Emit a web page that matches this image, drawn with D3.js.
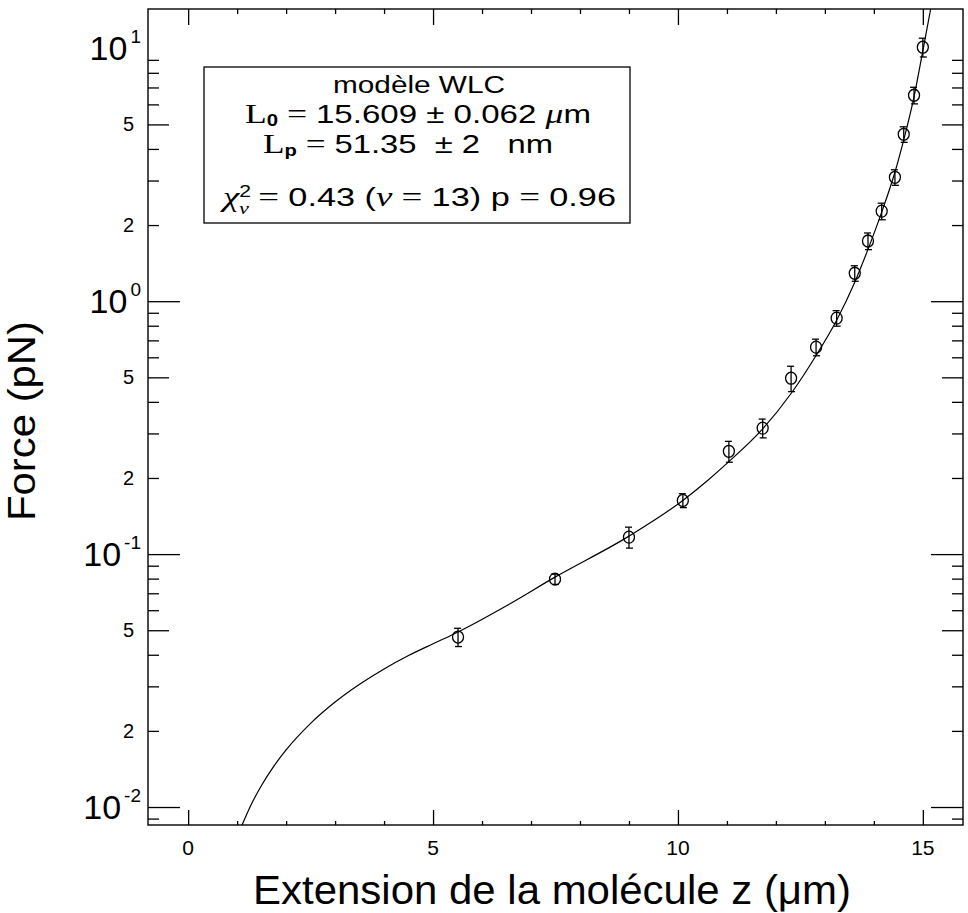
<!DOCTYPE html>
<html><head><meta charset="utf-8">
<script src="https://cdn.jsdelivr.net/npm/d3@7"></script>
<style>
body{margin:0;background:#fff}
text{font-family:"Liberation Sans",Arial,Helvetica,sans-serif;fill:#000}
.pre{white-space:pre}
</style>
</head><body>
<svg id="chart" width="968" height="913"></svg>
<script>
// ---------- data ----------
const pointZ   = [5.51, 7.49, 9.00, 10.10, 11.04, 11.73, 12.31, 12.82, 13.24, 13.61, 13.88, 14.16, 14.43, 14.61, 14.82, 15.00];
const pointF   = [0.0470, 0.0796, 0.1167, 0.163, 0.255, 0.315, 0.496, 0.658, 0.857, 1.29, 1.73, 2.27, 3.09, 4.57, 6.52, 10.1];
const pointErr = [0.0039, 0.0037, 0.0111, 0.0103, 0.0242, 0.0269, 0.057, 0.0497, 0.0605, 0.091, 0.131, 0.171, 0.218, 0.323, 0.492, 0.862];

const curveZ = [1.10, 1.30, 1.50, 1.75, 2.00, 2.50, 3.00, 3.50, 4.00, 4.50, 5.00, 5.49, 6.50, 7.49, 9.00, 10.10, 10.60, 11.04, 11.73, 12.31, 12.82, 13.24, 13.61, 13.88, 14.16, 14.43, 14.61, 14.82, 15.00, 15.16];
const curveF = [0.00848, 0.01034, 0.01219, 0.01451, 0.01682, 0.02142, 0.02601, 0.03058, 0.03516, 0.03972, 0.0442, 0.0490, 0.0625, 0.0811, 0.1178, 0.163, 0.195, 0.232, 0.3126, 0.4315, 0.610, 0.841, 1.189, 1.603, 2.249, 3.236, 4.345, 6.43, 9.77, 14.3];

const xMajorTicks = [0, 5, 10, 15];
const xMajorLabels = ["0", "5", "10", "15"];
const xMinorTicks = [1, 2, 3, 4, 6, 7, 8, 9, 11, 12, 13, 14];
const yDecadeTicks = [0.01, 0.1, 1];
const yFiveTicks = [0.05, 0.5, 5];
const yMinorTicks = [0.009, 0.02, 0.03, 0.04, 0.06, 0.07, 0.08, 0.09, 0.2, 0.3, 0.4, 0.6, 0.7, 0.8, 0.9, 2, 3, 4, 6, 7, 8, 9];
const yDecadeLabelValues = [0.01, 0.1, 1, 10];
const yDecadeLabelExps = ["-2", "-1", "0", "1"];
const yDigitLabelValues = [0.02, 0.05, 0.2, 0.5, 2, 5];
const yDigitLabelTexts = ["2", "5", "2", "5", "2", "5"];

const xTitle = "Extension de la molécule z (μm)";
const yTitle = "Force (pN)";

// ---------- layout ----------
const L = 148, R = 963, T = 9, B = 825;
const svg = d3.select("#chart");
const x = d3.scaleLinear().domain([-0.82, 15.82]).range([L, R]);
const y = d3.scaleLog().domain([0.00849, 14.3]).range([B, T]);

svg.append("defs").append("clipPath").attr("id", "clip")
  .append("rect").attr("x", L).attr("y", T).attr("width", R - L).attr("height", B - T);

// tick marks via d3 axes (inward)
function ticks(axisFn, scale, vals, size, tx, ty) {
  const g = svg.append("g").attr("transform", `translate(${tx},${ty})`)
    .call(axisFn(scale).tickValues(vals).tickSize(size).tickFormat(""));
  g.select(".domain").remove();
  g.selectAll("line").attr("stroke", "#000").attr("stroke-width", 1.3);
}
ticks(d3.axisBottom, x, xMajorTicks, -15, 0, B);
ticks(d3.axisBottom, x, xMinorTicks, -4, 0, B);
ticks(d3.axisTop, x, xMajorTicks, -16, 0, T);
ticks(d3.axisTop, x, xMinorTicks, -5, 0, T);
ticks(d3.axisLeft, y, yDecadeTicks, -32, L, 0);
ticks(d3.axisLeft, y, yFiveTicks, -21, L, 0);
ticks(d3.axisLeft, y, yMinorTicks, -11, L, 0);
ticks(d3.axisRight, y, yDecadeTicks, -32, R, 0);
ticks(d3.axisRight, y, yFiveTicks, -21, R, 0);
ticks(d3.axisRight, y, yMinorTicks, -11, R, 0);

// frame
svg.append("rect").attr("x", L).attr("y", T).attr("width", R - L).attr("height", B - T)
  .attr("fill", "none").attr("stroke", "#000").attr("stroke-width", 1.4);

// x tick labels
svg.append("g").selectAll("text").data(xMajorTicks).join("text")
  .attr("x", d => x(d)).attr("y", B + 30)
  .attr("text-anchor", "middle").attr("font-size", 21)
  .text((d, i) => xMajorLabels[i]);

// y digit labels
svg.append("g").selectAll("text").data(yDigitLabelValues).join("text")
  .attr("x", 134).attr("y", d => y(d) + 7)
  .attr("text-anchor", "end").attr("font-size", 20)
  .text((d, i) => yDigitLabelTexts[i]);

// y decade labels
const dec = svg.append("g").selectAll("text").data(yDecadeLabelValues).join("text")
  .attr("x", 141).attr("y", d => y(d) + 12)
  .attr("text-anchor", "end");
dec.append("tspan").attr("font-size", 34).text("10");
dec.append("tspan").attr("font-size", 19).attr("dx", 3).attr("dy", -17).text((d, i) => yDecadeLabelExps[i]);

// axis titles
svg.append("text").attr("x", 552).attr("y", 904).attr("text-anchor", "middle")
  .attr("font-size", 40).attr("textLength", 598).attr("lengthAdjust", "spacingAndGlyphs")
  .text(xTitle);
svg.append("text").attr("transform", "translate(35,421) rotate(-90)").attr("text-anchor", "middle")
  .attr("font-size", 39).attr("textLength", 200).attr("lengthAdjust", "spacingAndGlyphs")
  .text(yTitle);

// fit curve
const pts = curveZ.map((z, i) => [x(z), y(curveF[i])]);
svg.append("path").attr("clip-path", "url(#clip)")
  .attr("d", d3.line().curve(d3.curveMonotoneX)(pts))
  .attr("fill", "none").attr("stroke", "#000").attr("stroke-width", 1.2);

// data points with error bars
const data = pointZ.map((z, i) => ({ z, f: pointF[i], e: pointErr[i] }));
const pg = svg.append("g").attr("stroke", "#000").attr("stroke-width", 1.3).attr("fill", "none");
pg.selectAll(".eb").data(data).join("line")
  .attr("x1", d => x(d.z)).attr("x2", d => x(d.z))
  .attr("y1", d => y(d.f - d.e)).attr("y2", d => y(d.f + d.e));
pg.selectAll(".ct").data(data).join("line")
  .attr("x1", d => x(d.z) - 4).attr("x2", d => x(d.z) + 3)
  .attr("y1", d => y(d.f + d.e)).attr("y2", d => y(d.f + d.e));
pg.selectAll(".cb").data(data).join("line")
  .attr("x1", d => x(d.z) - 3).attr("x2", d => x(d.z) + 4)
  .attr("y1", d => y(d.f - d.e)).attr("y2", d => y(d.f - d.e));
pg.selectAll("ellipse").data(data).join("ellipse")
  .attr("cx", d => x(d.z)).attr("cy", d => y(d.f)).attr("rx", 5.5).attr("ry", 6)
  .attr("fill", "none");

// legend box
svg.append("rect").attr("x", 204).attr("y", 67).attr("width", 426).attr("height", 156)
  .attr("fill", "none").attr("stroke", "#000").attr("stroke-width", 1.3);
const serif = '"Liberation Serif","DejaVu Serif",serif';
svg.append("text").attr("x", 419).attr("y", 93).attr("text-anchor", "middle")
  .attr("font-size", 23).attr("textLength", 172).attr("lengthAdjust", "spacingAndGlyphs")
  .text("modèle WLC");

const l2 = svg.append("text").attr("class", "pre").attr("x", 245).attr("y", 123)
  .attr("font-size", 26).attr("textLength", 346).attr("lengthAdjust", "spacingAndGlyphs");
l2.append("tspan").attr("font-family", serif).attr("font-size", 28).text("L");
l2.append("tspan").attr("font-size", 16).attr("font-weight", "bold").attr("dy", 3).text("0");
l2.append("tspan").attr("dy", -3).attr("font-family", serif).attr("font-size", 28).text(" = ");
l2.append("tspan").text("15.609 ± 0.062 ");
l2.append("tspan").attr("font-family", serif).attr("font-style", "italic").attr("font-size", 28).text("μ");
l2.append("tspan").text("m");

const l3 = svg.append("text").attr("class", "pre").attr("x", 263).attr("y", 153)
  .attr("font-size", 26).attr("textLength", 290).attr("lengthAdjust", "spacingAndGlyphs");
l3.append("tspan").attr("font-family", serif).attr("font-size", 28).text("L");
l3.append("tspan").attr("font-size", 16).attr("font-weight", "bold").attr("dy", 3).text("p");
l3.append("tspan").attr("dy", -3).attr("font-family", serif).attr("font-size", 28).text(" = ");
l3.append("tspan").text("51.35  ± 2   nm");

const l4 = svg.append("text").attr("class", "pre").attr("x", 223).attr("y", 206)
  .attr("font-size", 26).attr("textLength", 393).attr("lengthAdjust", "spacingAndGlyphs");
l4.append("tspan").attr("font-family", serif).attr("font-style", "italic").attr("font-size", 28).text("χ");
l4.append("tspan").attr("font-size", 16).attr("dy", -9).text("2");
l4.append("tspan").attr("font-family", serif).attr("font-style", "italic").attr("font-size", 17).attr("dx", -9).attr("dy", 17).text("ν");
l4.append("tspan").attr("dy", -8).attr("font-family", serif).attr("font-size", 28).text(" = ");
l4.append("tspan").text("0.43 (");
l4.append("tspan").attr("font-family", serif).attr("font-style", "italic").attr("font-size", 28).text("ν");
l4.append("tspan").attr("font-family", serif).attr("font-size", 28).text(" = ");
l4.append("tspan").text("13) p ");
l4.append("tspan").attr("font-family", serif).attr("font-size", 28).text("= ");
l4.append("tspan").text("0.96");
</script>
</body></html>
